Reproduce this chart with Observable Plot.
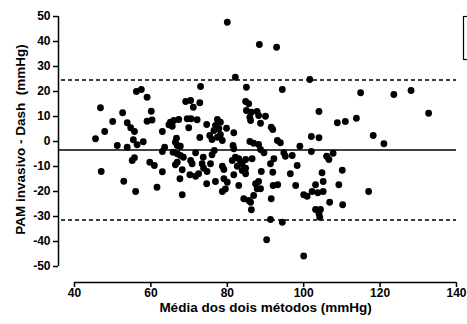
<!DOCTYPE html>
<html><head><meta charset="utf-8">
<script src="https://cdn.jsdelivr.net/npm/d3@7"></script>
<script src="https://cdn.jsdelivr.net/npm/@observablehq/plot@0.6"></script>
<style>body{margin:0;background:#fff}</style>
</head><body><div id="chart"></div>
<script>
const xTicks = [40, 60, 80, 100, 120, 140];
const yTicks = [-50, -40, -30, -20, -10, 0, 10, 20, 30, 40, 50];
const xTitle = "Média dos dois métodos (mmHg)";
const yTitle = "PAM invasivo - Dash\u00a0 (mmHg)";
const meanDiff = -3.4;
const upperLoA = 24.6;
const lowerLoA = -31.4;

const meanBP = [45.5,46.8,47.9,47.0,50.0,51.2,52.6,52.9,53.8,53.8,
54.7,55.7,55.4,56.4,55.1,55.7,56.0,56.2,57.5,58.0,
59.0,60.1,59.0,60.3,59.7,60.9,61.6,63.0,63.0,63.6,
63.0,64.7,65.1,65.6,66.0,67.3,65.8,66.9,67.7,68.5,
66.4,66.9,67.7,66.7,66.4,66.9,68.2,67.6,68.2,69.1,
70.4,71.1,72.8,73.0,69.5,70.5,72.1,69.9,71.7,70.4,
70.8,70.2,71.7,72.5,72.8,73.4,73.8,73.7,74.6,74.7,
74.6,75.4,76.0,75.6,76.0,76.6,77.4,78.2,76.9,77.8,
76.5,77.4,78.2,78.7,76.9,78.7,79.1,79.1,78.7,79.8,
81.7,81.5,81.7,82.1,83.0,81.3,83.5,82.6,84.8,86.5,
83.9,84.8,83.9,84.8,81.7,80.0,79.5,83.0,84.3,85.6,
86.9,86.1,86.3,87.4,88.2,87.8,88.7,88.9,91.9,92.0,
93.2,91.5,92.2,91.3,88.2,88.7,89.6,85.9,86.9,93.1,
93.9,94.8,95.2,97.0,98.3,96.5,97.9,99.0,100.0,91.3,
94.4,90.3,100.0,82.1,85.0,94.4,84.8,85.6,85.0,86.3,
85.9,86.1,87.8,88.2,90.0,88.7,91.5,91.9,80.0,88.4,
92.9,101.6,114.9,104.0,108.8,110.9,113.8,102.0,104.0,118.2,
121.0,102.0,106.0,106.6,107.7,104.8,110.1,103.1,105.1,109.2,
100.9,102.2,103.7,105.1,117.0,106.8,110.2,103.1,104.4,104.0,
104.2,123.6,128.1,132.7];

const diffBP = [1.1,13.5,4.0,-12.0,8.0,-1.6,11.5,-15.9,7.5,-2.3,
5.5,4.0,0.7,-1.3,-7.6,-6.5,-20.0,20.0,20.8,-0.1,
17.7,12.1,8.1,8.6,-8.3,-9.6,-18.3,-12.1,4.0,-2.3,
-4.0,6.7,7.7,6.1,8.4,8.8,-4.3,-4.9,-5.6,-6.3,
-0.3,-1.6,-1.9,1.3,-9.3,-8.3,-11.3,-14.9,-21.3,16.0,
16.4,13.7,15.5,22.0,9.1,9.1,8.7,5.5,-4.5,-7.6,
-8.9,-13.3,-13.9,-12.9,1.6,-8.9,-10.7,-6.3,6.8,-12.0,
-16.9,2.4,0.8,-8.9,-5.3,-3.6,8.8,7.7,6.4,5.1,
4.4,1.7,2.7,0.4,-16.0,-9.9,-11.2,-14.9,-20.0,5.3,
3.5,-1.6,-2.9,-6.3,-6.9,-7.6,-8.3,-9.9,-7.2,-6.9,
-8.9,-10.7,-11.6,-12.9,-13.3,-16.3,-19.0,-17.6,-22.9,-23.6,
-21.6,-24.3,-27.3,-16.9,-16.0,-18.9,-18.9,-12.0,-12.3,-17.6,
-17.3,-22.9,-6.9,-8.9,-1.2,-3.2,-4.5,0.0,-0.7,0.4,
-0.5,-4.5,-5.9,-5.6,-9.6,-12.9,-17.6,-1.9,-21.3,-31.2,
-32.3,-39.3,-45.8,25.7,21.7,20.8,16.0,15.1,12.4,11.7,
9.7,8.4,12.0,10.4,10.1,7.3,5.7,4.8,47.7,38.8,
37.7,24.8,19.5,12.0,7.5,8.0,9.3,2.0,1.5,2.4,
-0.9,-4.0,-5.9,-7.2,-4.7,-12.5,-11.5,-17.3,-16.0,-17.3,
-21.9,-20.0,-20.5,-20.0,-20.0,-24.3,-25.3,-27.2,-27.2,-28.9,
-30.3,18.8,20.4,11.3];

const data = meanBP.map((m, i) => ({m, d: diffBP[i]}));

const chart = Plot.plot({
  width: 467, height: 324,
  marginLeft: 74, marginRight: 11, marginTop: 16, marginBottom: 58,
  x: {domain: [xTicks[0], xTicks[xTicks.length - 1]]},
  y: {domain: [yTicks[0], yTicks[yTicks.length - 1]]},
  style: {fontFamily: "'Liberation Sans', Arial, sans-serif", fontSize: "12px", fontWeight: "bold", color: "#000", background: "#fff"},
  marks: [
    Plot.ruleY([upperLoA, lowerLoA], {insetLeft: -13, stroke: "#000", strokeWidth: 1.5, strokeDasharray: "4,3"}),
    Plot.ruleY([meanDiff], {insetLeft: -16, stroke: "#000", strokeWidth: 1.4}),
    Plot.dot(data, {x: "m", y: "d", r: 3.4, fill: "#000", stroke: null}),
    Plot.ruleX([xTicks[0]], {y1: yTicks[0], y2: yTicks[yTicks.length - 1], dx: -16, stroke: "#000", strokeWidth: 1.5}),
    Plot.ruleY([yTicks[0]], {x1: xTicks[0], x2: xTicks[xTicks.length - 1], dy: 16, stroke: "#000", strokeWidth: 1.5}),
    Plot.axisY(yTicks, {tickSize: 5, tickPadding: 3, dx: -16, tickFormat: d => String(d), label: null, strokeWidth: 1.5}),
    Plot.axisX(xTicks, {tickSize: 5, tickPadding: 1, dy: 16, tickFormat: d => String(d), label: null, strokeWidth: 1.5}),
    Plot.text([xTitle], {frameAnchor: "bottom", textAnchor: "middle", dy: 45, fontSize: 13.5}),
    Plot.text([yTitle], {frameAnchor: "left", textAnchor: "middle", rotate: -90, dx: -54, dy: -2, fontSize: 13.5})
  ]
});

d3.select(chart).append("rect")
  .attr("x", 463.5).attr("y", 16.5).attr("width", 20).attr("height", 43)
  .attr("fill", "none").attr("stroke", "#000").attr("stroke-width", 1.2);

document.getElementById("chart").appendChild(chart);
</script>
</body></html>
